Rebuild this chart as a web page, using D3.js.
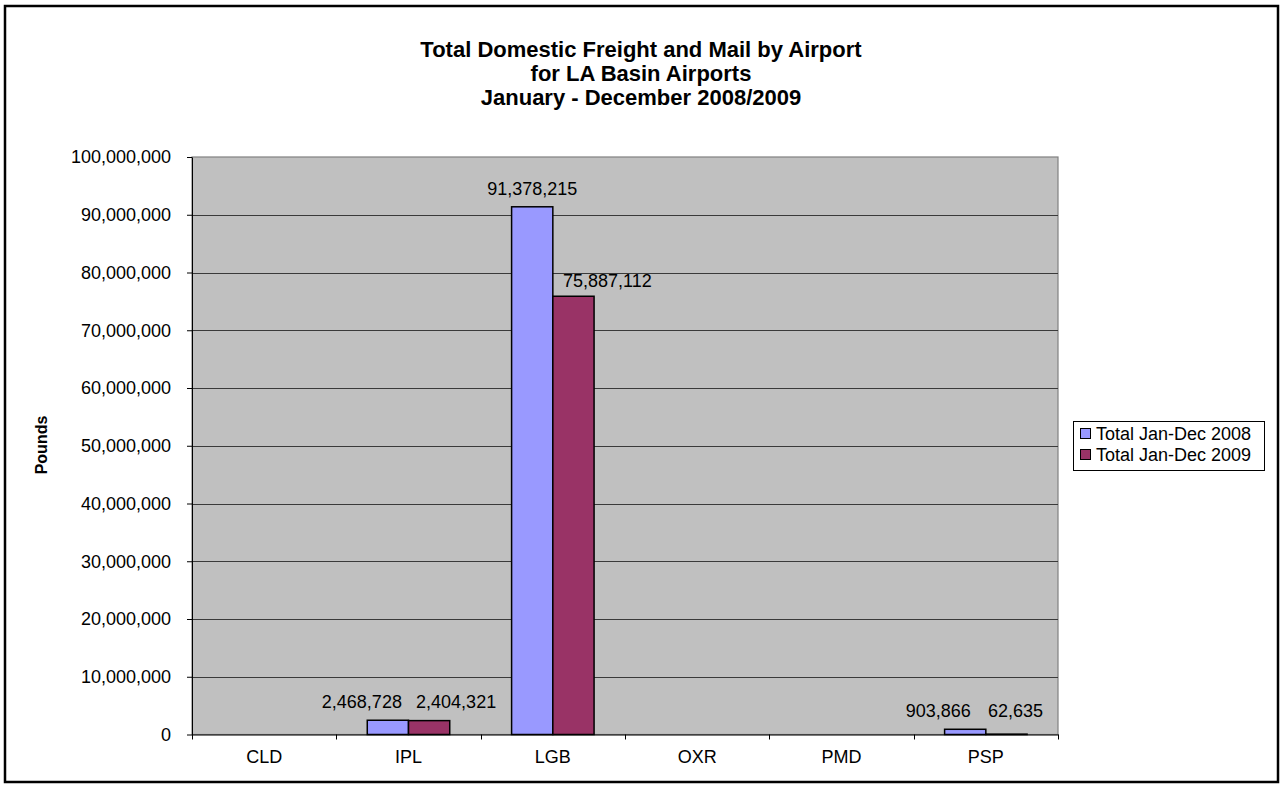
<!DOCTYPE html>
<html><head><meta charset="utf-8">
<script src="https://cdn.jsdelivr.net/npm/d3@7"></script>
<style>body{margin:0;background:#fff;}svg{display:block;font-family:"Liberation Sans",Arial,sans-serif;}</style>
</head><body>
<svg id="c" width="1282" height="790"></svg>
<script>
const categories = ["CLD","IPL","LGB","OXR","PMD","PSP"];
const seriesNames = ["Total Jan-Dec 2008","Total Jan-Dec 2009"];
const values2008 = [0, 2468728, 91378215, 0, 0, 903866];
const values2009 = [0, 2404321, 75887112, 0, 0, 62635];
const yTicks = [0,10000000,20000000,30000000,40000000,50000000,60000000,70000000,80000000,90000000,100000000];
const titleLines = ["Total Domestic Freight and Mail by Airport","for LA Basin Airports","January - December 2008/2009"];
const colors = ["#9999FF","#993366"];

const FONT = "Liberation Sans, Arial, sans-serif";
const svg = d3.select("#c");
svg.append("rect").attr("x",5).attr("y",6).attr("width",1273).attr("height",776).attr("fill","#fff").attr("stroke","#000").attr("stroke-width",2.5);

const L=192, R=1058, T=157, B=734.5;
const x = d3.scaleBand().domain(categories).range([L,R]).paddingInner(0).paddingOuter(0);
const bw = x.bandwidth()/3.5;
const y = d3.scaleLinear().domain([0,100000000]).range([B,T]);

svg.append("rect").attr("x",L).attr("y",T).attr("width",R-L).attr("height",B-T).attr("fill","#C0C0C0").attr("stroke","#808080").attr("stroke-width",1.2);

svg.append("g").selectAll("line").data(yTicks.filter(d=>d>0 && d<100000000)).join("line")
 .attr("x1",L).attr("x2",R).attr("y1",d=>Math.round(y(d))+0.5).attr("y2",d=>Math.round(y(d))+0.5)
 .attr("stroke","#3a3a3a").attr("stroke-width",1);

const yAxis = d3.axisLeft(y).tickValues(yTicks).tickFormat(d3.format(",")).tickSize(5).tickSizeOuter(0).tickPadding(16);
const gy = svg.append("g").attr("transform",`translate(${L},0)`).call(yAxis);
gy.selectAll("text").attr("font-size",18).attr("fill","#000").attr("font-family",FONT);
gy.select(".domain").attr("stroke","#000");
gy.selectAll(".tick line").attr("stroke","#000");

const xAxis = d3.axisBottom(x).tickSize(0).tickPadding(16);
const gx = svg.append("g").attr("transform",`translate(0,${B})`).call(xAxis);
gx.select(".domain").attr("stroke","#000");
gx.selectAll("text").attr("font-size",18).attr("fill","#000").attr("font-family",FONT);
svg.append("g").selectAll("line").data(d3.range(categories.length+1)).join("line")
 .attr("x1",i=>Math.round(L+i*x.step())+0.5).attr("x2",i=>Math.round(L+i*x.step())+0.5)
 .attr("y1",B).attr("y2",B+5).attr("stroke","#000");

// label placement tweaks (layout only): horizontal nudges to avoid overlaps, shared baseline per pair
const labelNudge = {IPL:{dx:[-26,27],shared:true}, LGB:{dx:[0,34],shared:false,gap:[12,9]}, PSP:{dx:[-27,9],shared:true}};

const series=[values2008,values2009];
series.forEach((vals,si)=>{
  const g = svg.append("g");
  const data = categories.map((c,i)=>({c,i,v:vals[i]})).filter(d=>d.v>0);
  g.selectAll("rect").data(data).join("rect")
   .attr("x",d=>x(d.c)+0.75*bw+si*bw).attr("width",bw)
   .attr("y",d=>y(d.v)).attr("height",d=>B-y(d.v))
   .attr("fill",colors[si]).attr("stroke","#000").attr("stroke-width",1.5);
});
series.forEach((vals,si)=>{
  const data = categories.map((c,i)=>({c,i,v:vals[i]})).filter(d=>d.v>0);
  svg.append("g").selectAll("text").data(data).join("text")
   .attr("x",d=>x(d.c)+0.75*bw+si*bw+bw/2+((labelNudge[d.c]||{dx:[0,0]}).dx[si]))
   .attr("y",d=>{
     const n=labelNudge[d.c];
     if(n && n.shared){ return Math.min(y(values2008[d.i]),y(values2009[d.i]))-12; }
     const gap = n && n.gap ? n.gap[si] : 12;
     return y(d.v)-gap;
   })
   .attr("text-anchor","middle").attr("font-size",18).attr("fill","#000")
   .text(d=>d3.format(",")(d.v));
});

svg.append("text").attr("transform","translate(47,445) rotate(-90)").attr("text-anchor","middle")
 .attr("font-size",16).attr("font-weight","bold").text("Pounds");

svg.append("g").selectAll("text").data(titleLines).join("text")
 .attr("x",641).attr("y",(d,i)=>57+i*24).attr("text-anchor","middle")
 .attr("font-size",22).attr("font-weight","bold").text(d=>d);

const lg = svg.append("g");
lg.append("rect").attr("x",1073.5).attr("y",421.5).attr("width",191).attr("height",49).attr("fill","#fff").attr("stroke","#000");
seriesNames.forEach((n,i)=>{
  lg.append("rect").attr("x",1080.5).attr("y",428.5+i*21).attr("width",10).attr("height",10).attr("fill",colors[i]).attr("stroke","#000");
  lg.append("text").attr("x",1096).attr("y",439.5+i*21).attr("font-size",18).text(n);
});
</script>
</body></html>
